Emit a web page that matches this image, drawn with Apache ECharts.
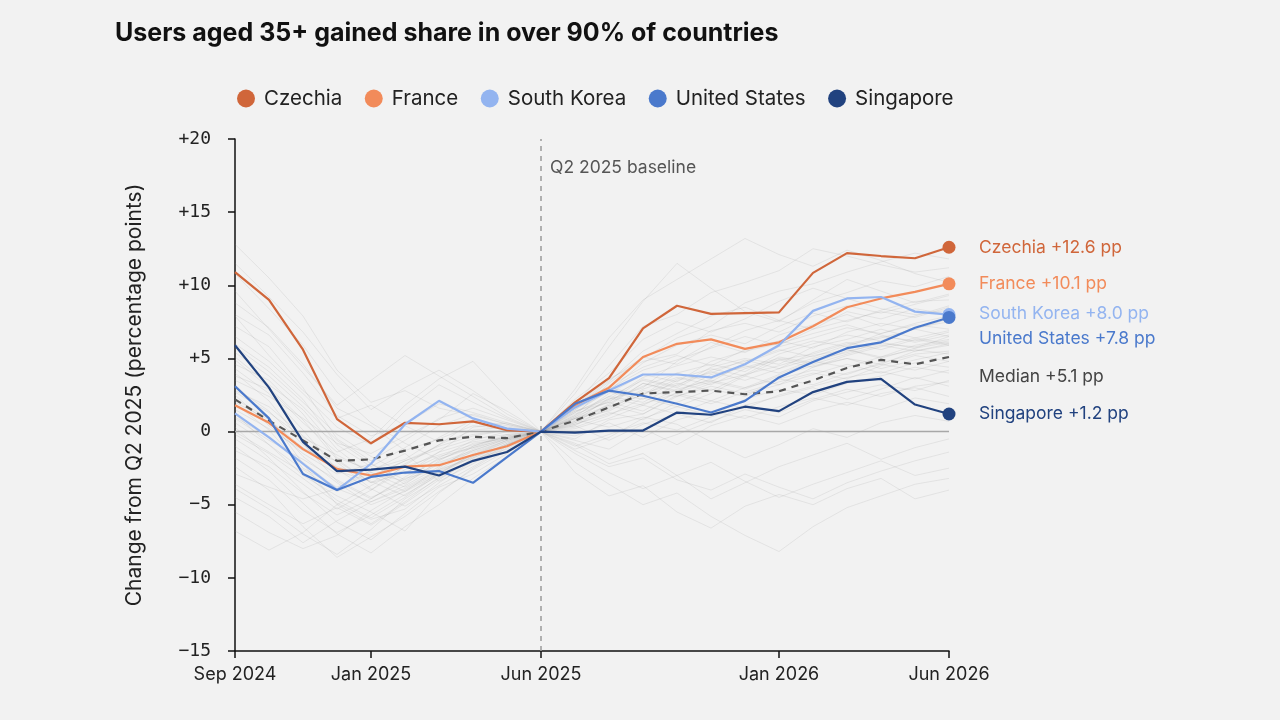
<!DOCTYPE html>
<html>
<head>
<meta charset="utf-8">
<script src="https://cdn.jsdelivr.net/npm/echarts@6/dist/echarts.min.js"></script>
<style>
html,body{margin:0;padding:0;background:#f2f2f2;}
#chart{width:1280px;height:720px;}
</style>
</head>
<body>
<div id="chart"></div>
<script>
const months = ['Sep 2024','Oct 2024','Nov 2024','Dec 2024','Jan 2025','Feb 2025','Mar 2025','Apr 2025','May 2025','Jun 2025','Jul 2025','Aug 2025','Sep 2025','Oct 2025','Nov 2025','Dec 2025','Jan 2026','Feb 2026','Mar 2026','Apr 2026','May 2026','Jun 2026'];
const shownMonthLabels = ['Sep 2024','Jan 2025','Jun 2025','Jan 2026','Jun 2026'];
const yTicks = [-15,-10,-5,0,5,10,15,20];

const czechia = [10.9, 9.0, 5.6, 0.85, -0.8, 0.6, 0.5, 0.7, 0.1, 0, 2.0, 3.65, 7.05, 8.6, 8.05, 8.1, 8.15, 10.85, 12.2, 12.0, 11.85, 12.6];
const france = [1.8, 0.6, -1.2, -2.55, -3.0, -2.4, -2.3, -1.6, -1.0, 0, 1.8, 3.0, 5.1, 6.0, 6.3, 5.65, 6.1, 7.2, 8.5, 9.1, 9.55, 10.1];
const southKorea = [1.25, -0.4, -2.2, -4.0, -2.2, 0.5, 2.1, 0.9, 0.2, 0, 1.65, 2.8, 3.9, 3.9, 3.7, 4.6, 5.9, 8.25, 9.1, 9.2, 8.2, 8.0];
const unitedStates = [3.1, 0.9, -2.9, -4.0, -3.1, -2.8, -2.7, -3.5, -1.75, 0, 1.9, 2.8, 2.45, 1.9, 1.3, 2.1, 3.7, 4.75, 5.7, 6.1, 7.1, 7.8];
const singapore = [5.9, 3.0, -0.7, -2.7, -2.6, -2.4, -3.0, -2.0, -1.4, 0, -0.07, 0.07, 0.07, 1.3, 1.15, 1.7, 1.4, 2.7, 3.4, 3.6, 1.85, 1.2];
const median = [2.2, 0.75, -0.6, -2.0, -1.9, -1.3, -0.6, -0.35, -0.45, 0, 0.75, 1.65, 2.6, 2.7, 2.8, 2.55, 2.75, 3.5, 4.35, 4.9, 4.6, 5.1];

const otherCountries = [
[12.8,10.5,7.9,4.2,2.0,2.8,1.6,1.1,0.5,0,1.8,4.5,7.2,8.0,9.5,10.2,11.0,12.5,12.0,11.4,10.9,11.2],
[9.6,7.0,4.4,1.8,3.5,5.2,3.8,2.4,1.0,0,2.6,5.8,8.9,11.5,9.8,8.2,7.5,9.0,10.4,9.6,8.8,9.4],
[7.2,5.8,3.0,-0.5,-2.0,-0.6,0.9,1.6,0.8,0,0.9,2.2,3.0,4.8,6.1,5.4,6.6,7.3,8.0,7.2,7.9,8.6],
[5.1,3.2,1.5,-1.2,-3.0,-4.1,-2.5,-1.0,-0.3,0,1.4,2.0,3.6,3.1,4.4,5.0,4.6,5.8,6.3,7.0,6.4,6.9],
[4.0,2.1,-0.8,-3.4,-4.6,-3.2,-2.6,-1.8,-0.9,0,0.6,1.5,2.8,2.4,3.3,3.9,5.1,4.7,5.5,6.0,5.8,6.2],
[3.2,1.0,-2.2,-5.0,-6.3,-4.8,-3.1,-1.9,-1.2,0,-0.5,0.8,1.2,2.5,1.9,2.7,3.4,4.0,3.6,4.5,5.2,4.8],
[2.5,0.4,-1.5,-2.9,-2.2,-3.6,-2.0,-0.8,-0.5,0,1.1,2.4,2.0,3.2,4.1,3.5,4.3,5.0,5.6,5.1,5.9,6.3],
[1.2,-0.9,-3.0,-4.4,-5.5,-6.8,-4.2,-2.5,-1.1,0,-1.2,-0.4,0.9,1.7,1.1,2.2,2.9,2.5,3.3,3.8,4.4,4.0],
[0.3,-1.8,-4.1,-6.2,-7.4,-5.6,-3.8,-2.9,-1.5,0,0.5,1.3,0.8,2.0,2.9,2.4,3.6,4.2,3.9,4.7,5.3,5.5],
[-1.0,-2.7,-4.9,-7.0,-8.3,-6.5,-5.0,-3.2,-1.7,0,-0.8,-1.9,-1.0,-0.2,0.7,1.5,1.0,2.1,2.7,3.2,2.8,3.5],
[-2.4,-4.0,-6.5,-8.6,-7.2,-5.8,-4.1,-2.6,-1.3,0,-1.5,-2.8,-3.9,-3.0,-4.6,-3.5,-2.4,-1.6,-0.8,-1.9,-1.1,-0.5],
[-4.5,-5.8,-7.6,-6.1,-4.8,-3.9,-2.7,-1.6,-0.7,0,-2.1,-3.6,-5.0,-4.2,-5.8,-7.1,-8.2,-6.5,-5.2,-4.4,-3.6,-3.2],
[-6.8,-8.1,-6.9,-5.0,-3.7,-2.4,-1.6,-0.9,-0.4,0,-1.3,-2.4,-1.8,-3.3,-4.0,-2.9,-3.8,-4.6,-3.5,-2.7,-2.0,-1.4],
[6.5,4.8,2.6,0.3,-0.9,1.4,3.2,2.0,0.9,0,1.6,3.4,5.5,6.7,7.9,8.5,7.6,8.8,9.5,10.3,9.9,10.6],
[10.8,8.4,5.9,2.7,0.6,-0.8,-1.9,-1.0,-0.2,0,2.2,4.0,6.3,7.5,6.8,7.7,8.9,9.8,9.1,8.4,8.0,8.3],
[3.8,2.9,0.6,-1.4,-0.5,1.8,3.6,4.8,2.3,0,0.3,1.1,2.3,1.7,2.6,3.8,3.2,4.4,5.0,4.6,5.5,5.9],
[1.9,0.1,-2.5,-3.8,-2.7,-1.5,-3.4,-2.2,-0.9,0,1.9,3.1,4.4,5.2,4.5,5.6,6.2,5.7,6.8,7.4,7.0,7.7],
[-0.5,-2.0,-3.6,-5.3,-4.0,-2.3,-0.9,0.7,0.2,0,0.4,-0.6,0.5,1.2,0.6,1.8,2.4,3.0,2.2,2.9,3.7,3.1],
[2.8,1.7,-0.3,-2.1,-3.9,-5.1,-3.7,-2.4,-1.0,0,1.0,2.6,3.9,3.4,4.8,5.5,6.0,6.7,7.3,6.6,6.1,6.6],
[5.8,4.1,2.0,-0.2,-1.7,-2.9,-1.4,0.3,0.6,0,1.5,3.0,2.5,4.0,4.6,4.1,5.3,6.0,6.6,6.2,7.1,7.5],
[0.9,-0.6,-1.9,-3.3,-4.5,-3.5,-2.2,-1.4,-0.6,0,0.2,0.9,1.8,1.2,2.1,1.6,2.5,3.1,3.7,4.1,3.6,4.2],
[-1.8,-3.3,-5.4,-6.9,-5.7,-4.3,-3.0,-2.1,-1.0,0,-0.3,0.6,-0.4,0.8,1.4,0.9,1.7,2.3,1.8,2.6,3.0,2.4],
[4.6,3.5,1.2,-1.8,-2.6,-1.9,-0.4,0.8,0.4,0,0.9,1.6,2.9,3.7,3.2,4.3,4.9,4.4,5.2,5.8,6.4,6.0],
[8.0,6.6,4.0,1.1,-0.3,0.5,1.9,1.3,0.6,0,1.3,2.8,4.7,5.9,6.6,6.0,7.2,8.1,7.5,8.3,8.9,9.0],
[-3.6,-5.0,-6.3,-5.2,-6.4,-4.9,-3.3,-1.8,-0.8,0,-0.6,-1.2,0.2,-0.9,0.4,1.1,0.5,1.4,2.0,1.5,2.3,1.9],
[2.0,0.8,-1.1,-2.4,-3.1,-2.0,-1.2,-0.5,-0.2,0,0.7,1.8,3.3,2.8,3.6,4.5,4.0,4.9,5.4,6.1,5.7,6.5],
[-5.5,-6.9,-8.0,-7.1,-5.4,-4.0,-2.8,-1.7,-0.9,0,-2.8,-4.4,-3.7,-5.5,-6.6,-5.1,-4.3,-5.0,-3.9,-3.2,-4.6,-4.0],
[7.9,5.2,2.8,0.9,1.8,0.4,-0.7,-0.2,0.1,0,2.9,6.4,9.0,10.4,11.8,13.2,12.1,11.3,12.4,11.7,10.8,10.2],
[1.5,0.2,-1.3,-2.0,-3.5,-2.8,-1.7,-1.1,-0.3,0,0.8,0.3,1.0,0.5,-0.7,-1.8,-0.9,0.2,-0.4,0.6,1.1,0.7],
[3.5,2.4,0.9,-0.8,-1.5,-0.3,0.8,2.6,1.4,0,-0.9,-2.2,-1.5,-3.0,-2.1,-3.4,-4.5,-3.6,-2.8,-2.0,-3.0,-2.5],
[-2.9,-3.8,-4.6,-3.9,-2.8,-3.4,-2.1,-1.3,-0.5,0,1.2,2.0,1.4,2.7,3.4,2.9,3.8,4.5,5.0,4.3,4.9,5.4],
[0.0,-1.4,-2.8,-4.7,-5.9,-4.5,-2.9,-1.5,-0.6,0,1.6,2.9,4.2,4.9,5.7,6.5,5.9,7.0,7.6,8.2,7.8,8.5],
[11.5,9.2,6.8,3.9,1.5,3.0,4.2,2.8,1.2,0,1.1,3.3,5.0,6.4,7.2,8.8,9.6,10.1,10.9,11.6,12.2,11.8],
[6.0,4.4,2.2,-0.9,-2.4,-1.1,0.4,1.2,0.5,0,1.8,3.6,4.8,5.3,6.9,7.4,6.8,7.9,8.6,8.1,8.7,9.3],
[4.3,2.6,0.1,-2.6,-4.0,-2.6,-1.4,-0.7,-0.4,0,1.0,2.1,3.1,4.0,3.4,4.7,5.5,6.2,5.8,6.7,7.3,7.0],
[2.2,0.9,-1.7,-3.5,-5.0,-4.1,-2.9,-1.7,-0.7,0,0.4,1.7,2.5,3.6,4.3,3.8,4.9,5.3,6.0,6.5,6.2,6.8],
[-0.2,-1.5,-3.2,-4.9,-6.0,-5.3,-3.5,-2.0,-0.8,0,1.3,2.4,3.5,3.0,4.2,4.8,5.6,5.1,5.9,6.4,7.0,6.5],
[3.0,1.4,-0.9,-2.7,-3.4,-4.4,-2.8,-1.6,-0.6,0,0.9,1.4,2.6,3.3,2.8,3.9,4.5,5.2,5.6,5.0,5.7,6.1],
[1.0,-0.4,-2.1,-3.9,-4.8,-3.7,-2.4,-1.2,-0.4,0,1.5,2.7,2.2,3.5,4.0,4.9,4.3,5.4,6.1,5.6,6.3,5.9],
[5.4,3.8,1.7,-0.6,-2.2,-3.3,-1.8,-0.6,0.0,0,0.6,1.9,3.3,2.7,3.9,4.4,5.0,4.6,5.3,5.9,5.5,6.0],
[-1.3,-2.4,-4.2,-5.7,-4.6,-3.1,-1.9,-1.1,-0.5,0,0.9,1.8,1.2,2.4,3.1,2.6,3.2,3.9,4.6,4.0,4.7,4.4],
[8.8,7.1,4.6,1.6,0.4,-1.3,-0.5,0.4,0.2,0,1.7,3.5,5.1,4.6,5.8,6.9,7.6,7.0,8.2,7.7,8.4,8.0],
[0.6,-0.9,-2.6,-4.1,-3.0,-2.0,-1.0,-0.3,0.1,0,0.5,1.2,1.9,2.6,2.1,3.0,3.6,3.2,4.0,4.6,4.2,4.8],
[-3.9,-5.3,-7.0,-8.4,-6.7,-4.6,-3.2,-2.0,-0.9,0,-1.0,-0.2,0.6,0.1,1.0,1.8,1.3,2.2,2.9,2.4,3.1,3.4],
[2.7,1.3,-0.4,-1.6,-2.8,-3.8,-2.6,-1.3,-0.5,0,1.4,2.2,3.7,4.5,5.1,4.6,5.8,6.4,7.1,6.7,7.4,7.9],
[4.9,3.0,0.8,-1.9,-3.5,-2.2,-0.9,0.1,0.3,0,0.7,2.3,1.8,2.9,3.5,3.0,3.9,4.8,4.4,5.1,5.6,5.3]
];

const highlighted = [
  {name:'Czechia', data:czechia, color:'#d0663a', label:'Czechia +12.6 pp', dy:0},
  {name:'France', data:france, color:'#f28b5a', label:'France +10.1 pp', dy:0},
  {name:'South Korea', data:southKorea, color:'#93b4f0', label:'South Korea +8.0 pp', dy:-1},
  {name:'United States', data:unitedStates, color:'#4a79cc', label:'United States +7.8 pp', dy:21},
  {name:'Singapore', data:singapore, color:'#21427f', label:'Singapore +1.2 pp', dy:0}
];

const FONT = 'Inter, "Noto Sans", sans-serif';
const last = months.length - 1;

const series = [];
otherCountries.forEach((d, i) => {
  series.push({
    type:'line', name:'other'+i, data:d, silent:true, z:1,
    symbol:'none', lineStyle:{color:'rgba(150,150,150,0.17)', width:1},
    emphasis:{disabled:true}
  });
});
series.push({
  type:'line', name:'Median', data:median, z:3, silent:true,
  symbol:'none',
  lineStyle:{color:'#555', width:2.2, type:[7,6]},
  endLabel:{show:true, formatter:'Median +5.1 pp', color:'#444', fontFamily:FONT, fontSize:17.5, distance:30, offset:[0,20]},
  markLine:{
    silent:true, symbol:'none', animation:false,
    label:{show:false},
    data:[
      {yAxis:0, lineStyle:{color:'#a8a8a8', width:1.3, type:'solid'}},
      {xAxis:'Jun 2025', lineStyle:{color:'#9a9a9a', width:1.5, type:[5,5]}}
    ]
  },
  markPoint:{
    silent:true, symbol:'circle', symbolSize:0, animation:false,
    data:[{coord:['Jun 2025', 18.05], value:'Q2 2025 baseline'}],
    label:{show:true, position:'right', distance:9, formatter:'Q2 2025 baseline', color:'#555', fontFamily:FONT, fontSize:17.5}
  }
});
highlighted.forEach(h => {
  series.push({
    type:'line', name:h.name, data:h.data, z:5,
    color:h.color,
    showSymbol:true, showAllSymbol:true, symbol:'circle',
    symbolSize:(v, p) => p.dataIndex === last ? 13 : 0,
    itemStyle:{color:h.color},
    lineStyle:{color:h.color, width:2.2},
    endLabel:{show:true, formatter:h.label, color:h.color, fontFamily:FONT, fontSize:17.5, distance:30, offset:[0,h.dy]}
  });
});

const chart = echarts.init(document.getElementById('chart'));
chart.setOption({
  backgroundColor:'#f2f2f2',
  animation:false,
  title:{
    text:'Users aged 35+ gained share in over 90% of countries',
    left:110, top:16,
    textStyle:{fontFamily:FONT, fontSize:25, fontWeight:'bold', color:'#111'}
  },
  legend:{
    data:highlighted.map(h => h.name),
    top:83, left:232,
    icon:'circle', itemWidth:26, itemHeight:18, itemGap:22.5,
    textStyle:{fontFamily:FONT, fontSize:20.5, color:'#222'}
  },
  grid:{left:235, right:331, top:139, bottom:69, containLabel:false},
  xAxis:{
    type:'category', data:months, boundaryGap:false,
    axisLine:{onZero:false, lineStyle:{color:'#111', width:1.5}},
    axisTick:{show:true, length:7, lineStyle:{color:'#111', width:1.5},
      interval:(i, v) => shownMonthLabels.includes(v)},
    axisLabel:{interval:(i, v) => shownMonthLabels.includes(v), margin:15,
      fontFamily:FONT, fontSize:18, color:'#222'},
    splitLine:{show:false}
  },
  yAxis:{
    type:'value', min:yTicks[0], max:yTicks[yTicks.length-1], interval:5,
    name:'Change from Q2 2025 (percentage points)', nameLocation:'middle', nameGap:90,
    nameTextStyle:{fontFamily:FONT, fontSize:21, color:'#222'},
    axisLine:{show:true, lineStyle:{color:'#111', width:1.5}},
    axisTick:{show:true, length:7, lineStyle:{color:'#111', width:1.5}},
    axisLabel:{margin:24, fontFamily:'"DejaVu Sans Mono", monospace', fontSize:18, color:'#222',
      formatter:v => v > 0 ? '+' + v : (v < 0 ? '\u2212' + (-v) : '0')},
    splitLine:{show:false}
  },
  series:series
});
</script>
</body>
</html>
